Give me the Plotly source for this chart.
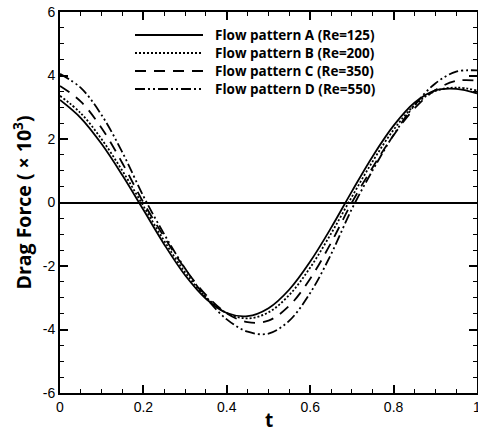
import plotly.graph_objects as go

t = [0.00, 0.05, 0.10, 0.15, 0.20, 0.25, 0.30, 0.35, 0.40, 0.45, 0.50,
     0.55, 0.60, 0.65, 0.70, 0.75, 0.80, 0.85, 0.90, 0.95, 1.00]

drag_a = [3.23, 2.66, 1.84, 0.85, -0.23, -1.32, -2.29, -3.03, -3.48, -3.58, -3.33,
          -2.74, -1.86, -0.80, 0.35, 1.46, 2.42, 3.14, 3.53, 3.58, 3.44]
drag_b = [3.36, 2.81, 1.99, 0.99, -0.11, -1.21, -2.20, -2.98, -3.48, -3.65, -3.46,
          -2.91, -2.05, -0.98, 0.18, 1.30, 2.29, 3.06, 3.51, 3.62, 3.53]
drag_c = [3.67, 3.18, 2.34, 1.23, 0.00, -1.09, -2.09, -2.91, -3.49, -3.77, -3.72,
          -3.25, -2.40, -1.27, 0.00, 1.11, 2.12, 2.96, 3.54, 3.83, 3.84]
drag_d = [4.05, 3.61, 2.75, 1.57, 0.20, -1.00, -2.08, -3.00, -3.68, -4.07, -4.13,
          -3.72, -2.85, -1.63, -0.20, 1.02, 2.13, 3.06, 3.75, 4.12, 4.16]

labels = ["Flow pattern A (Re=125)", "Flow pattern B (Re=200)",
          "Flow pattern C (Re=350)", "Flow pattern D (Re=550)"]
series = [drag_a, drag_b, drag_c, drag_d]
dashes = ["solid", "2px,2px", "11px,8px", "10px,3px,2px,3px,2px,3px"]

x_ticks = [0, 0.2, 0.4, 0.6, 0.8, 1.0]
x_ticktext = ["0", "0.2", "0.4", "0.6", "0.8", "1"]
y_ticks = [-6, -4, -2, 0, 2, 4, 6]
y_ticktext = ["-6", "-4", "-2", "0", "2", "4", "6"]

fig = go.Figure()
for lab, ys, d in zip(labels, series, dashes):
    fig.add_trace(go.Scatter(x=t, y=ys, mode="lines", name=lab,
                             line=dict(color="black", width=1.8, dash=d, shape="spline"),
                             showlegend=False))

# manual legend (paper coordinates)
W, H = 417.0, 381.0
leg_rows = [35, 53, 71, 89]
for lab, d, py in zip(labels, dashes, leg_rows):
    yp = (393 - py) / H
    fig.add_shape(type="line", xref="paper", yref="paper",
                  x0=(135 - 60) / W, x1=(203 - 60) / W, y0=yp, y1=yp,
                  line=dict(color="black", width=1.8, dash=d))
    fig.add_annotation(xref="paper", yref="paper", x=(214 - 60) / W, y=yp,
                       text="<b>" + lab + "</b>", showarrow=False, borderpad=0,
                       xanchor="left", yanchor="middle",
                       font=dict(family="Open Sans", size=13.5, color="black"))

# axis titles
fig.add_annotation(xref="paper", yref="paper", x=0.5, y=(393 - 420) / H,
                   text="<b>t</b>", showarrow=False, xanchor="center", yanchor="middle",
                   font=dict(family="Open Sans", size=19, color="black"))
fig.add_annotation(xref="paper", yref="paper", x=(22 - 60) / W, y=0.5,
                   text="<b>Drag Force ( × 10<sup>3</sup>)</b>", showarrow=False,
                   textangle=-90, xanchor="center", yanchor="middle",
                   font=dict(family="Open Sans", size=19.5, color="black"))

axis_common = dict(showline=True, linecolor="black", linewidth=2, mirror="ticks",
                   ticks="inside", ticklen=8, tickwidth=2, tickcolor="black",
                   showgrid=False, automargin=False, ticklabeloverflow="allow",
                   tickfont=dict(family="Liberation Sans", size=14, color="black"))

fig.update_xaxes(range=[0, 1], tickvals=x_ticks, ticktext=x_ticktext, zeroline=False,
                 minor=dict(dtick=0.05, tick0=0, ticks="inside", ticklen=4, tickwidth=1,
                            tickcolor="black"),
                 **axis_common)
fig.update_yaxes(range=[-6, 6], tickvals=y_ticks, ticktext=y_ticktext, zeroline=True,
                 zerolinecolor="black", zerolinewidth=2,
                 minor=dict(dtick=0.5, tick0=0, ticks="inside", ticklen=4, tickwidth=1,
                            tickcolor="black"),
                 **axis_common)

fig.update_layout(width=478, height=433, margin=dict(l=60, r=1, t=12, b=40),
                  paper_bgcolor="white", plot_bgcolor="white", showlegend=False)

fig.write_html("out.html", config={"displayModeBar": False},
               post_script="document.body.style.margin='0';document.body.style.overflow='hidden';")
